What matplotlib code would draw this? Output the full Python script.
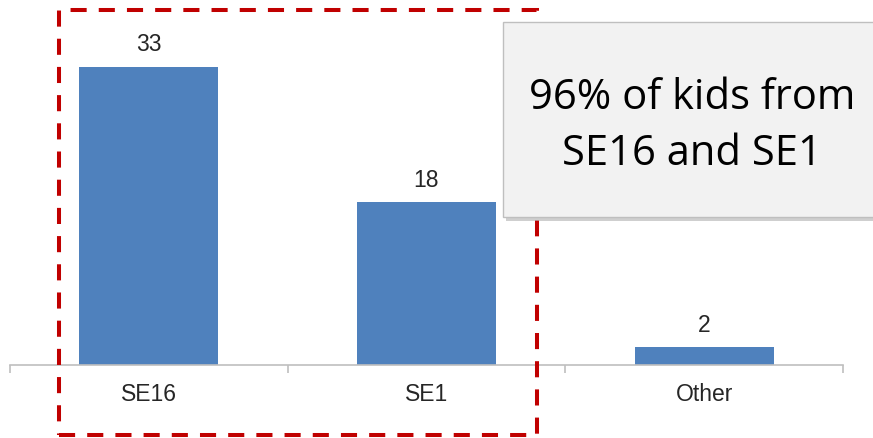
import matplotlib.pyplot as plt
from matplotlib.patches import Rectangle

categories = ['SE16', 'SE1', 'Other']
kids = [33, 18, 2]
callout = '96% of kids from\nSE16 and SE1'

W, H = 873, 439
fig = plt.figure(figsize=(W / 100, H / 100), dpi=100)
ax = fig.add_axes([10 / W, (H - 366) / H, 833 / W, 366 / H])

x = range(len(categories))
ax.bar(x, kids, width=0.5, color='#4f81bd', zorder=2)
ax.set_xlim(-0.5, len(categories) - 0.5)
ax.set_ylim(0, 40.5)

for i, v in enumerate(kids):
    ax.annotate(str(v), (i, v), xytext=(0, 16.5), textcoords='offset points',
                ha='center', va='center', fontsize=16.5, color='#262626',
                family='Liberation Sans')

for s in ['top', 'right', 'left']:
    ax.spines[s].set_visible(False)
ax.spines['bottom'].set_color('#bfbfbf')
ax.spines['bottom'].set_linewidth(1.2)
ax.set_yticks([])
ax.set_xticks([-0.5, 0.5, 1.5, 2.5])
ax.set_xticklabels([])
ax.tick_params(axis='x', length=6, width=1.2, color='#bfbfbf')
ax.set_xticks(list(x), minor=True)
ax.set_xticklabels(categories, minor=True, fontsize=16.5, color='#262626',
                   family='Liberation Sans')
ax.tick_params(axis='x', which='minor', length=0, pad=12.5)

# red dashed highlight around SE16 and SE1
fig.add_artist(Rectangle((59 / W, (H - 436) / H), (537 - 59) / W, (436 - 11) / H,
                         transform=fig.transFigure, fill=False, edgecolor='#c00000',
                         linewidth=2.9, linestyle=(0, (4, 3)), capstyle='butt', zorder=5))

# callout box with shadow
fig.add_artist(Rectangle((506 / W, (H - 222) / H), 400 / W, 195 / H,
                         transform=fig.transFigure, facecolor='#b0b0b0', edgecolor='none',
                         alpha=0.6, zorder=6))
fig.add_artist(Rectangle((503 / W, (H - 218) / H), 400 / W, 195 / H,
                         transform=fig.transFigure, facecolor='#f2f2f2', edgecolor='#bfbfbf',
                         linewidth=1, zorder=7))
fig.text(692 / W, (H - 126) / H, callout, ha='center', va='center', fontsize=30,
         family='Open Sans', linespacing=1.45, color='black', zorder=8)

fig.savefig('out.png', dpi=100)
